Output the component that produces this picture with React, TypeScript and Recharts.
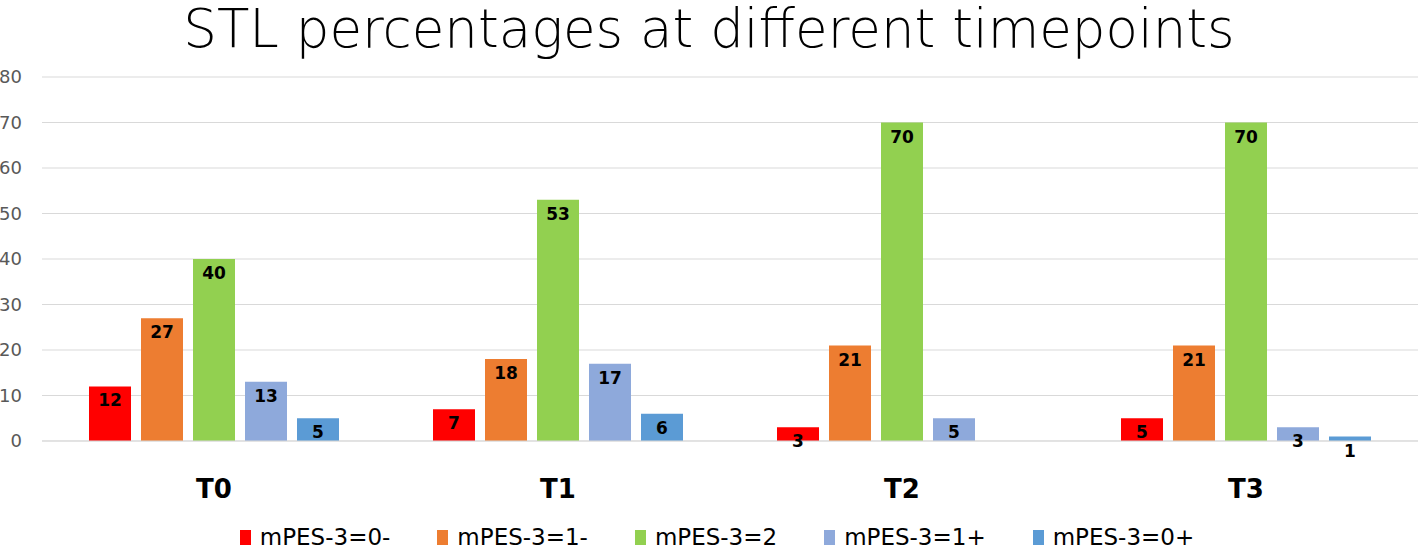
import React from "react";
import { BarChart, Bar, XAxis, YAxis, CartesianGrid, Legend, LabelList } from "recharts";

const categories = ["T0", "T1", "T2", "T3"];
const seriesNames = ["mPES-3=0-", "mPES-3=1-", "mPES-3=2", "mPES-3=1+", "mPES-3=0+"];
const s0minus = [12, 7, 3, 5];
const s1minus = [27, 18, 21, 21];
const s2 = [40, 53, 70, 70];
const s1plus = [13, 17, 5, 3];
const s0plus: (number | null)[] = [5, 6, null, 1];
const yTicks = [0, 10, 20, 30, 40, 50, 60, 70, 80];
const colors = ["#FF0000", "#ED7D31", "#92D050", "#8EA9DB", "#5B9BD5"];

const data = categories.map((c, i) => ({
  name: c,
  a: s0minus[i],
  b: s1minus[i],
  c: s2[i],
  d: s1plus[i],
  e: s0plus[i],
}));
const keys = ["a", "b", "c", "d", "e"];

const FONT = "'DejaVu Sans', sans-serif";

const LegendContent = () => (
  <div style={{ display: "flex", justifyContent: "center", gap: 47, paddingLeft: 16, fontFamily: FONT, fontSize: 23, color: "#000", lineHeight: "26px" }}>
    {seriesNames.map((n, i) => (
      <div key={n} style={{ display: "flex", alignItems: "center" }}>
        <span style={{ display: "inline-block", width: 11, height: 15, background: colors[i], marginRight: 9 }} />
        <span>{n}</span>
      </div>
    ))}
  </div>
);

export default function App() {
  return (
    <div style={{ position: "absolute", left: 0, top: 0, width: 1418, height: 550, background: "#fff" }}>
      <div
        style={{
          position: "absolute",
          top: -2,
          left: 0,
          width: 1418,
          textAlign: "center",
          fontFamily: FONT,
          fontWeight: 200,
          fontSize: 53,
          lineHeight: "62px",
          color: "#000",
        }}
      >
        STL percentages at different timepoints
      </div>
      <BarChart
        width={1418}
        height={550}
        data={data}
        margin={{ top: 77, right: 0, left: 0, bottom: 8 }}
        barSize={42}
        barGap={10}
      >
        <CartesianGrid vertical={false} stroke="#d9d9d9" />
        <XAxis
          dataKey="name"
          axisLine={{ stroke: "#d9d9d9" }}
          tickLine={false}
          height={75}
          tick={{ fill: "#000", fontSize: 26, fontWeight: 700, fontFamily: FONT }}
          tickMargin={33}
        />
        <YAxis
          width={42}
          domain={[0, 80]}
          ticks={yTicks}
          axisLine={false}
          tickLine={false}
          tickSize={0}
          tickMargin={20}
          tick={{ fill: "#595959", fontSize: 18, fontFamily: FONT }}
        />
        <Legend verticalAlign="bottom" content={<LegendContent />} wrapperStyle={{ bottom: 0 }} />
        {keys.map((k, i) => (
          <Bar key={k} dataKey={k} name={seriesNames[i]} fill={colors[i]} isAnimationActive={false}>
            <LabelList
              dataKey={k}
              position="insideTop"
              offset={8}
              style={{ fill: "#000", fontSize: 17, fontWeight: 700, fontFamily: FONT }}
            />
          </Bar>
        ))}
      </BarChart>
    </div>
  );
}
